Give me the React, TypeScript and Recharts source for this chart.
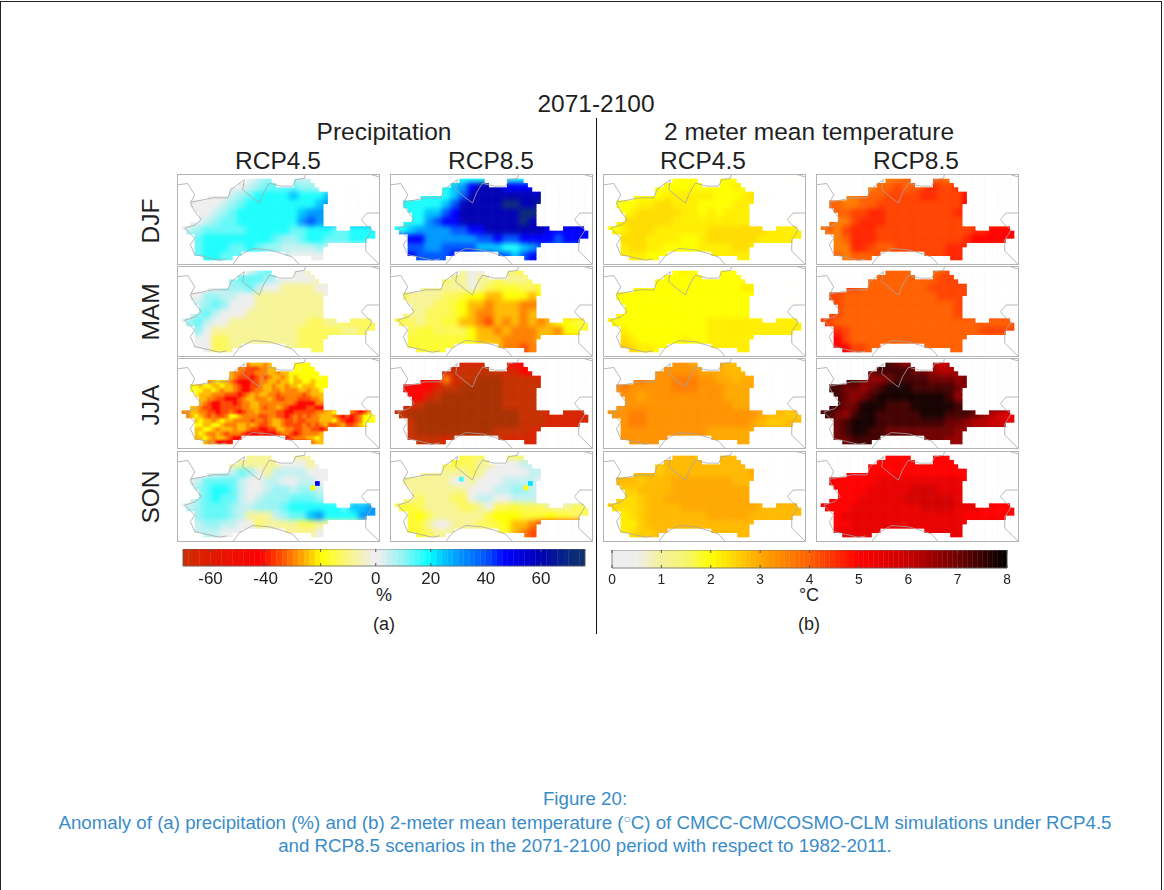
import { ReferenceArea, Scatter, ScatterChart, XAxis, YAxis } from 'recharts';

// map grid: one panel is 47 x 21 cells, most value lists hold one char per 2 x 2 cells
const gridCols = 47;
const gridRows = 21;

const maskSpans: number[][][] = [
  [],
  [[16, 21], [27, 30]],
  [[14, 22], [27, 31]],
  [[12, 32]],
  [[12, 34]],
  [[7, 34]],
  [[3, 34]],
  [[3, 33]],
  [[4, 33]],
  [[5, 33]],
  [[5, 33]],
  [[3, 33]],
  [[1, 36], [40, 44]],
  [[2, 45]],
  [[4, 45]],
  [[4, 43]],
  [[4, 34]],
  [[4, 33]],
  [[4, 14], [25, 33]],
  [[6, 12], [31, 33]],
  [],
];

// precipitation anomaly (%) per level char
const precipLevels: Record<string, number> = {
  m: -76, l: -71, k: -64, j: -44, i: -35, h: -30, g: -25, f: -20, e: -16, d: -13, c: -8,
  '0': 0, '1': 5, '2': 9, '3': 13, '4': 18, '5': 25, '6': 30, '7': 40, '8': 47, '9': 60, a: 72,
};

// temperature anomaly (deg C) per level char
const tempLevels: Record<string, number> = {
  a: 1.8, b: 2.0, c: 2.2, d: 2.4, e: 2.6, f: 2.8, g: 3.0, h: 3.3, i: 3.6, j: 4.0,
  k: 4.3, l: 4.6, m: 5.0, n: 5.4, o: 5.8, p: 6.2, q: 6.6, r: 7.0, s: 7.4, t: 7.8,
};

const precipDjf45 = ['........012..111', '......00123333221', '...000123444454445', '.00001234444444456', '..001234444444566', '.0012334444444676', '01233333444443344433444', '..344444444322344333444', '..3444334322111121', '..344333....10000'];
const precipDjf85 = ['........444..444', '......45689998888', '...444457999999999', '.444445799999aa99a', '..4455789999999aa', '.44467889999999a9', '44566667788999999988888', '..886666667787788887888', '..7766777755544567', '..877778....77578'];
const precipMam45 = ['........023..00c', '......2333210000c', '...001223100cccc00', '.00221100cccccccc0', '..1232000cccccccc', '.0231000ccccccccc', '023100cccccccccddccdddd', '..20ccccccccccdddddccdd', '..00ddccccccccdddd', '..00ddcc....ccddd'];
const precipMam85 = ['........c00..cde', '......dcc0ccdcccd', '...cccccc0cdeeedde', '.eccccddeffggfffgf', '..cccddefgghggghh', '.dccdddefghhggghg', 'eddcddeegghighghghgffee', '..deeddddfgghghhhgghffe', '..eeeeeeefggghhhhg', '..eeeeee....ghhih'];
// this panel is grainy, so it holds one char per grid cell
const precipJja45 = [
  'g',
  '................hggghg.....ffff',
  '..............hhiiihhgg....fefff',
  '............ghhiiihhhgghggfffffff',
  '............ghiiijihihgghgfgfffffef',
  '.......hgfgghijjjiihhgghggfggffgfff',
  '...ffgffggfgghijjiihgghgghggfgggfff',
  '...fefggfghgghijjihhgghhghhhgghggff',
  '....fggghhhiiijihghgghhihhhhhihggg',
  '.....gghhiijjjihgghhhghiihhhiiihhg',
  '.....ghijjiiijihhgghhhhhhhhijjjjhh',
  '...gghiijjiiiiihhgghihhghijjjjiijj',
  '.hhgghhiijiihijihhghhhhiijjiiiiihhggf...hijig',
  '..hgfghihiihffghhhhiihhiijihihihhggghijijihffe',
  '....gfgghgfgghhhhihhihgghiihiihhhgggfhijjihfff',
  '....ffggffghhhgghghiihgghiiiihihihgiihgiihgf',
  '....ggffghggghgghiijjiigghhiihhiijih',
  '....gfghhghihhhijjjijjjihhijihhhhg',
  '....ggfghgghijj..........jihhhggfg',
  '......ghhjjjj..................hgg',
  'g',
];
const precipJja85 = ['........kkk..jjj', '......kllllllkkjj', '...jjjhkllmmmllllk', '.jjjjkllmmmmmlllll', '..jjklmmmmmmmllll', '.kklmmmmmmmmmllll', 'llmmmmmmmmmmmmmlllkkkkk', '..lmmmmmmmmmmmmlllkkkkk', '..lmmmmmmmmmllllkk', '..llllkl....lkkkk'];
const precipSon45 = ['........ccc..ccc', '......cccccc000c0', '...0011320c1111000', '.01333310011001100', '..234431001221221', '.0234331012223332', '01233321122234444443556', '..233321ccc123356444466', '..1221100dccccddcc', '..111000....cccc0'];
const precipSon85 = ['........edd..ddd', '......deddcc00011', '...ccccccdc0000011', '.cccccc00c00011110', '..ccccccc00011221', '.ccdcccdd01100111', 'deedccccddc0ddedddcccdd', '..efdccccccefffeeefeedd', '..eec00cccddefgghi', '..eedccc....deghi'];

const tempDjf45 = ['........bbb..bbb', '......bbbbbbbbbcb', '...bbbbccccccbbbcd', '.abbccddcccbbbbccc', '..bcdddddccbcbccc', '.bddddddccccccccc', 'bbcdddccccccdddddddcccc', '..dddccccbbcddddddccccc', '..cddccbbbbccccddc', '..cccbbb....ccccc'];
const tempDjf85 = ['........iij..jji', '......ijjkjjklkkl', '...iijjjkkkkllkkkm', '.jjiijjkkkkkkkkkkm', '..jjkkllkkkkkkkkl', '.jiiklllkkkkkkkkk', 'ijiklllkkkkkkkkkkkllmmm', '..ijlllkkkkkkkkkklmmmmm', '..iillkjjkkkkkklll', '..jijjjk....kkkll'];
const tempMam45 = ['........bcb..bbb', '......bbbbbbbbbbb', '...cbbbbbbbbbbbbcc', '.bbbbbbbbbbbbbbbbb', '..bbbbbbbbbbbbbbb', '.cbbbbbbbbbbbbbbb', 'cbbbbbbbbbbbccccccccccc', '..cbbbbbbbbbccccccccccc', '..dcbbbbbcbbcccc', '..edccbb....ccccc'];
const tempMam85 = ['........jjj..jjk', '......jjjjjjjjkkk', '...kkjjjjjjjjkkkkk', '.kkjjjjjjjjjjjkkkk', '..kjjjjjjjjjjjjjk', '.kkjjjjjjjjjjjjjk', 'kkjjjjjjjjjjjjjjjjjjjjj', '..lkjjjjjjjjjjjjjjjkk', '..mkjjjjjjjjjjjjjj', '..mmkkjj....jjjjj'];
const tempJja45 = ['........hhg..gff', '......hhhhhgggfff', '...iihhhiiihhggfg', '.hihhhhhiiihhhgggg', '..hhghhhhhhhhhgg', '.hhhhhhhhhhhhhhgg', 'hhhiihhhhhhhhhhhhhgffee', '..hiihhhhhhhhhhhhgfeef', '..hhhhhhhhhhgggggg', '..hhhhhh....ggggg'];
const tempJja85 = ['........srq..pop', '......rssssrrqppq', '...ssrqqrssssrrrqr', '.ssrrqrstttsssssrq', '..srqrsttttttttsq', '.ssrrtttsssttttts', 'ssrqsttssssstttsssrqpon', '..rstttssssssssrrqppoon', '..rsttssrrrrrrrrqq', '..rrssss....rrrqq'];
const tempSon45 = ['........fff..fff', '......efffffffffff', '...fffeffffffffffg', '.fffefffgggggggfffg', '..eeffffgggggggggf', '.eddeffggggggggggg', 'edddeffffgggggggggfffff', '..cdefffffffgggggffffff', '..ccefffffffffffff', '..cdeeff....fffff'];
const tempSon85 = ['........mmm..mmm', '......mmmmmmmmmmm', '...mmmmmmmmmmmmmmm', '.nmmmmmnnnnnnnnnnm', '..mmmmnnnnnooonnn', '.nmmmnnnnnoooooon', 'nmmmnnnnnnnnoooonnnmmmm', '..mnnnnnnnnnnnnnnmmmm', '..mmnnnnnnnnnnnnnn', '..nnnnnn....nnnnn'];

// single odd grid cells: col, row, value
const son45Spots = [[32, 7, 50], [31, 8, -20]];
const son85Spots = [[32, 7, 22], [31, 8, -20], [16, 6, 15]];

// country borders and coast in grid units
const borderWest = [[0, 2.5], [2.5, 2.2], [3.3, 3.5], [4.1, 4.8], [3.1, 6.7], [4.1, 8.6], [5.6, 10.5], [4.3, 11.7], [1.8, 12.5], [2.9, 13.6], [4.1, 14.8], [3.1, 16.3], [4.1, 18.6], [6.8, 19.2], [9.8, 19.9], [11.5, 19.6]];
const borderNorth = [[3.3, 6.5], [8.3, 5.5], [11.8, 5.5], [12.5, 3.6], [15.6, 1.3], [15.2, 3.6], [17.5, 5.5], [19.1, 6.7], [20, 4.4], [21.4, 2.1], [24, 2.8], [26.8, 2.8], [27.5, 1.3], [29.5, 1], [29.8, 0]];
const coastSouth = [[12.9, 20.9], [14.5, 18.8], [17.5, 17.2], [21.4, 17.5], [24.5, 18.4], [26.8, 19.2], [28.3, 20.9]];
const coastEast = [[46.9, 9], [44, 9], [42.7, 10.5], [43.7, 11.7], [45.2, 12.8], [44.5, 14], [43.7, 15.2], [43.7, 17.8], [46.9, 20.9]];
const coastTop = [[44.5, 0], [46.9, 0.7]];
const borderPaths = [borderWest, borderNorth, coastSouth, coastEast, coastTop];

// colour scales
const precipStops: [number, string][] = [
  [-76, '#a83000'], [-70, '#cc3000'], [-60, '#e01a00'], [-42, '#ff0000'], [-34, '#ff5000'], [-30, '#ff8000'], [-22, '#ffdc00'], [-20, '#ffff00'],
  [-10, '#faf580'], [-3, '#f0f0d0'], [-2, '#eeeeee'], [2, '#eeeeee'], [3, '#d8f0f0'], [10, '#90f5f5'], [20, '#00ffff'], [22, '#00e0ff'],
  [30, '#0099ff'], [40, '#0055ff'], [47, '#0000ff'], [60, '#0000b4'], [70, '#082a80'], [76, '#10306c'],
];
const tempStops: [number, string][] = [
  [0, '#eeeeee'], [0.5, '#eeeeee'], [1, '#f4f09a'], [1.5, '#f6f570'], [2, '#ffff00'], [3, '#ffa800'], [4, '#ff6000'], [5, '#ff0000'], [6, '#c80000'], [7, '#700000'], [8, '#000000'],
];

const precipTicks = [-60, -40, -20, 0, 20, 40, 60];
const tempTicks = [0, 1, 2, 3, 4, 5, 6, 7, 8];

const hex = (c: string) => [1, 3, 5].map((i) => parseInt(c.slice(i, i + 2), 16));

const colorAt = (stops: [number, string][], v: number) => {
  if (v <= stops[0][0]) return stops[0][1];
  for (let i = 1; i < stops.length; i++) {
    if (v <= stops[i][0]) {
      const [a, ca] = stops[i - 1];
      const [b, cb] = stops[i];
      const t = (v - a) / (b - a);
      const A = hex(ca);
      const B = hex(cb);
      return `rgb(${A.map((n, k) => Math.round(n + (B[k] - n) * t)).join(',')})`;
    }
  }
  return stops[stops.length - 1][1];
};

const charAt = (row: string, c: number) => {
  for (let i = Math.min(c, row.length - 1); i >= 0; i--) {
    if (row[i] !== '.') return row[i];
  }
  return row.replace(/\./g, '')[0];
};

const inMask = (c: number, r: number) => maskSpans[r].some(([from, to]) => c >= from && c <= to);

// every grid cell gets a value so the soft layer also runs under the map edge
const buildCells = (rows: string[], levels: Record<string, number>) => {
  const fine = rows.length === gridRows;
  const cells: { x: number; y: number; value: number }[] = [];
  for (let r = 0; r < gridRows; r++) {
    for (let c = 0; c < gridCols; c++) {
      const row = fine ? rows[r] : rows[Math.min(Math.floor(r / 2), rows.length - 1)];
      cells.push({ x: c + 0.5, y: r + 0.5, value: levels[charAt(row, fine ? c : Math.floor(c / 2))] });
    }
  }
  return cells;
};

const outsideCells: { x: number; y: number }[] = [];
for (let r = 0; r < gridRows; r++) {
  for (let c = 0; c < gridCols; c++) {
    if (!inMask(c, r)) outsideCells.push({ x: c + 0.5, y: r + 0.5 });
  }
}

const PANEL_W = 203;
const PANEL_H = 91;
const CHART_MARGIN = { top: 0, right: 0, bottom: 0, left: 0 };

const MapPanel = ({ left, top, rows, levels, stops, spots = [], blur = 2.6 }: any) => {
  const cells = buildCells(rows, levels);
  const w = PANEL_W / gridCols;
  const h = PANEL_H / gridRows;
  const ValueCell = ({ cx, cy, payload }: any) => (
    <rect x={cx - w / 2 - 0.2} y={cy - h / 2 - 0.2} width={w + 0.4} height={h + 0.4} fill={colorAt(stops, payload.value)} />
  );
  const WhiteCell = ({ cx, cy }: any) => (
    <rect x={cx - w / 2 - 0.3} y={cy - h / 2 - 0.3} width={w + 0.6} height={h + 0.6} fill="#fff" />
  );
  return (
    <div style={{ position: 'absolute', left, top, width: PANEL_W, height: PANEL_H, overflow: 'hidden' }}>
      <div style={{ position: 'absolute', left: 0, top: 0, filter: `blur(${blur}px)` }}>
        <ScatterChart width={PANEL_W} height={PANEL_H} margin={CHART_MARGIN}>
          <XAxis type="number" dataKey="x" domain={[0, gridCols]} hide />
          <YAxis type="number" dataKey="y" domain={[0, gridRows]} reversed hide />
          <Scatter data={cells} shape={ValueCell} isAnimationActive={false} />
        </ScatterChart>
      </div>
      <div style={{ position: 'absolute', left: 0, top: 0, filter: 'blur(0.55px)' }}>
        <ScatterChart width={PANEL_W} height={PANEL_H} margin={CHART_MARGIN}>
          <XAxis type="number" dataKey="x" domain={[0, gridCols]} hide />
          <YAxis type="number" dataKey="y" domain={[0, gridRows]} reversed hide />
          <Scatter data={outsideCells} shape={WhiteCell} isAnimationActive={false} />
          <Scatter
            data={spots.map(([c, r, value]: number[]) => ({ x: c + 0.5, y: r + 0.5, value }))}
            shape={ValueCell}
            isAnimationActive={false}
          />
          {borderPaths.map((path, i) => (
            <Scatter
              key={i}
              data={path.map(([x, y]) => ({ x, y }))}
              line={{ stroke: '#a6a6a6', strokeWidth: 0.8 }}
              shape={() => <g />}
              isAnimationActive={false}
            />
          ))}
        </ScatterChart>
      </div>
      <div style={{ position: 'absolute', inset: 0, boxShadow: 'inset 0 0 0 1px #b4b4b4' }} />
    </div>
  );
};

const colLefts = [177, 390, 603, 816];
const rowTops = [174, 266, 358, 451];

const panels: any[] = [
  [precipDjf45, precipDjf85, tempDjf45, tempDjf85],
  [precipMam45, precipMam85, tempMam45, tempMam85],
  [precipJja45, precipJja85, tempJja45, tempJja85],
  [precipSon45, precipSon85, tempSon45, tempSon85],
];

const ColorBar = ({ left, top, width, height, domain, step, stops, ticks, fontSize, textDy }: any) => {
  const pad = 20;
  const edges: number[] = [];
  for (let v = domain[0]; v < domain[1] - 1e-6; v += step) edges.push(v);
  const Tick = ({ x, y, payload }: any) => (
    <g>
      <line x1={x} x2={x} y1={y - height} y2={y - height + 3} stroke="#555" />
      <line x1={x} x2={x} y1={y - 3} y2={y} stroke="#555" />
      <text x={x} y={y + textDy} textAnchor="middle" fontSize={fontSize} fill="#222">
        {payload.value}
      </text>
    </g>
  );
  return (
    <div style={{ position: 'absolute', left: left - pad, top, filter: 'blur(0.4px)' }}>
      <ScatterChart width={width + pad * 2} height={height + 34} margin={{ top: 0, right: pad, bottom: 0, left: pad }}>
        <XAxis type="number" dataKey="x" domain={domain} ticks={ticks} interval={0} height={34} axisLine={false} tickLine={false} tickSize={0} tickMargin={0} tick={Tick} />
        <YAxis type="number" dataKey="y" domain={[0, 1]} hide />
        <Scatter data={edges.map((x) => ({ x, y: 0.5 }))} shape={() => <g />} isAnimationActive={false} />
        {edges.map((v) => (
          <ReferenceArea
            key={v}
            x1={v}
            x2={Math.min(v + step, domain[1])}
            y1={0}
            y2={1}
            fill={colorAt(stops, v + step / 2)}
            fillOpacity={1}
            stroke={colorAt(stops, v + step / 2)}
            strokeWidth={0.4}
          />
        ))}
        <ReferenceArea x1={domain[0]} x2={domain[1]} y1={0} y2={1} fill="none" stroke="#666" strokeWidth={0.8} />
      </ScatterChart>
    </div>
  );
};

const Label = ({ x, y, size, rotate = 0, color = '#1f1f1f', children }: any) => (
  <div
    style={{
      position: 'absolute',
      left: x,
      top: y,
      fontSize: size,
      lineHeight: 1,
      color,
      whiteSpace: 'nowrap',
      transform: `translate(-50%, -50%) rotate(${rotate}deg)`,
    }}
  >
    {children}
  </div>
);

const captionColor = '#3a8cc8';

export default function App() {
  return (
    <div
      style={{
        position: 'absolute',
        left: 0,
        top: 0,
        width: 1164,
        height: 890,
        background: '#fff',
        overflow: 'hidden',
        fontFamily: '"Liberation Sans", Arial, sans-serif',
      }}
    >
      <div style={{ position: 'absolute', left: 0, top: 1, width: 1162, height: 900, border: '1px solid #222', boxSizing: 'border-box' }} />
      <div style={{ position: 'absolute', left: 596, top: 118, width: 1, height: 516, background: '#111' }} />

      <Label x={596} y={104} size={24.5}>2071-2100</Label>
      <Label x={384} y={132} size={24.5}>Precipitation</Label>
      <Label x={809} y={132} size={24.5}>2 meter mean temperature</Label>
      {[278, 491, 703, 916].map((x, i) => (
        <Label key={x} x={x} y={161} size={24.5}>{i % 2 === 0 ? 'RCP4.5' : 'RCP8.5'}</Label>
      ))}
      {['DJF', 'MAM', 'JJA', 'SON'].map((s, i) => (
        <Label key={s} x={151} y={[221, 312, 405, 497][i]} size={24.5} rotate={-90}>{s}</Label>
      ))}

      {panels.map((row, r) =>
        row.map((rows: string[], c: number) => (
          <MapPanel
            key={`${r}-${c}`}
            left={colLefts[c]}
            top={rowTops[r]}
            rows={rows}
            levels={c < 2 ? precipLevels : tempLevels}
            stops={c < 2 ? precipStops : tempStops}
            spots={r === 3 && c === 0 ? son45Spots : r === 3 && c === 1 ? son85Spots : []}
            blur={r === 2 && c === 0 ? 1 : 2.6}
          />
        )),
      )}

      <ColorBar left={183} top={549} width={402} height={17} domain={[-70, 76]} step={2} stops={precipStops} ticks={precipTicks} fontSize={17} textDy={18} />
      <ColorBar left={612} top={550} width={395} height={18} domain={[0, 8]} step={0.1} stops={tempStops} ticks={tempTicks} fontSize={13.8} textDy={16} />

      <Label x={384} y={595} size={18}>%</Label>
      <Label x={384} y={624} size={18}>(a)</Label>
      <Label x={809} y={595} size={18}>°C</Label>
      <Label x={809} y={624} size={18}>(b)</Label>

      <Label x={585} y={799} size={18.7} color={captionColor}>Figure 20:</Label>
      <Label x={585} y={823} size={18.7} color={captionColor}>
        Anomaly of (a) precipitation (%) and (b) 2-meter mean temperature (<span style={{ fontSize: 12, verticalAlign: 6 }}>○</span>C) of CMCC-CM/COSMO-CLM simulations under RCP4.5
      </Label>
      <Label x={585} y={846} size={18.7} color={captionColor}>
        and RCP8.5 scenarios in the 2071-2100 period with respect to 1982-2011.
      </Label>
    </div>
  );
}
